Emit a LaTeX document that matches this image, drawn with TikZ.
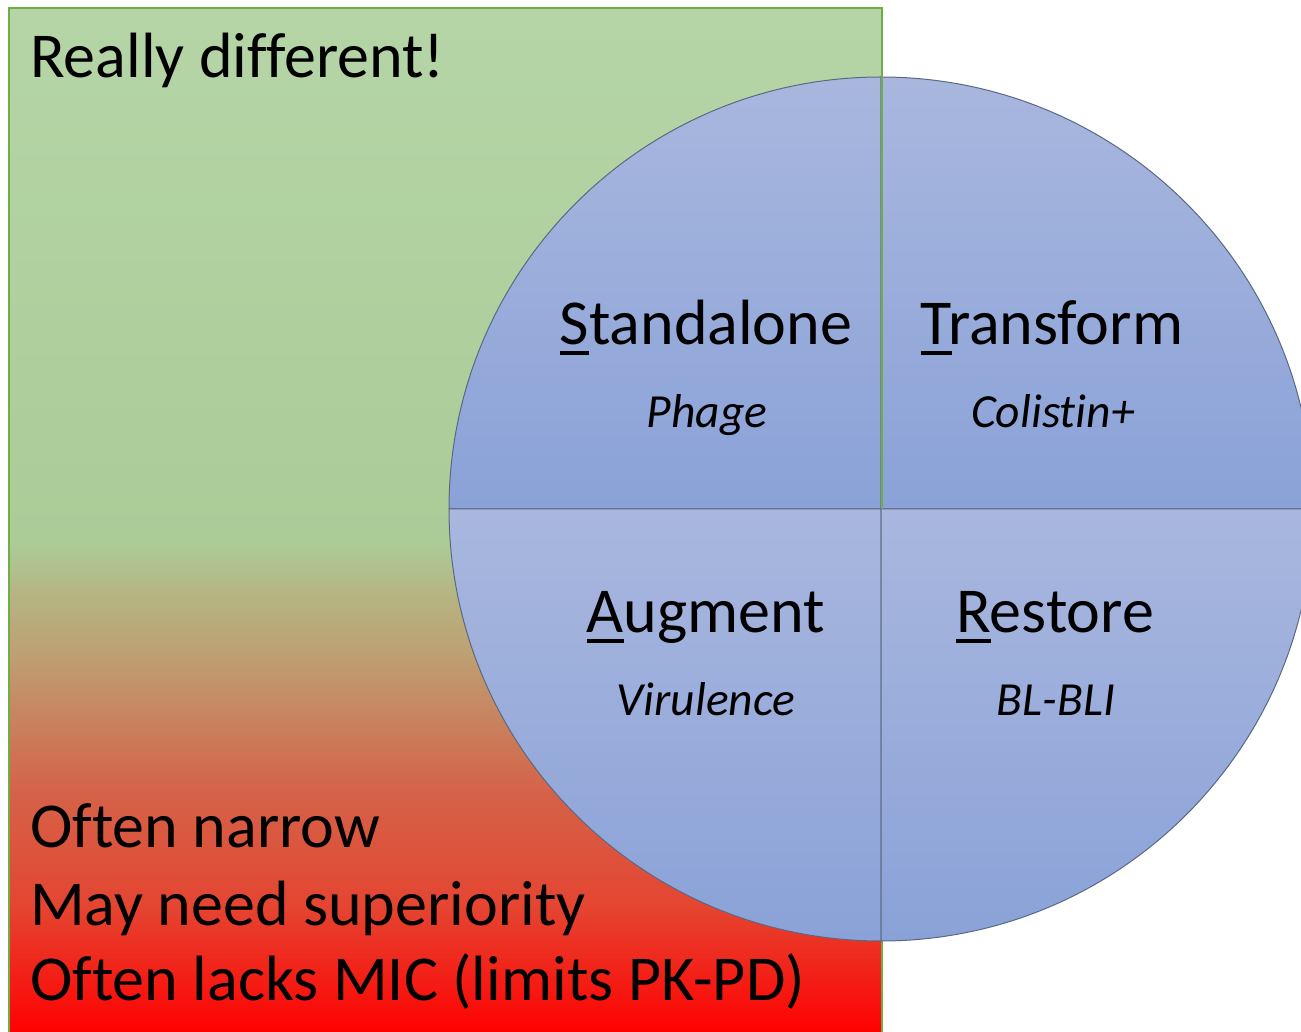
\documentclass[tikz,border=0pt]{standalone}
\usepackage{fontspec}
\setmainfont{Carlito}[Ligatures=NoCommon]
\usetikzlibrary{positioning}

\definecolor{boxgreen}{RGB}{112,173,71}
\definecolor{gtop}{RGB}{181,213,167}
\definecolor{gmid}{RGB}{171,204,151}
\definecolor{tanA}{RGB}{182,178,128}
\definecolor{tanB}{RGB}{190,160,115}
\definecolor{redA}{RGB}{212,98,72}
\definecolor{redB}{RGB}{228,70,50}
\definecolor{redC}{RGB}{255,0,0}
\definecolor{quadtop}{RGB}{169,183,222}
\definecolor{quadbot}{RGB}{138,162,216}
\definecolor{quadline}{RGB}{90,105,130}

% background of the box, bottom to top
\pgfdeclareverticalshading{greenred}{100bp}{color(0bp)=(redC); color(25bp)=(redC);
  color(31.4bp)=(redB); color(36.8bp)=(redA); color(43.6bp)=(tanB);
  color(46.1bp)=(tanA); color(49bp)=(gmid); color(75bp)=(gtop); color(100bp)=(gtop)}
% underlined first letter
\newcommand{\firstul}[1]{\setbox0\hbox{#1}\rlap{\rule[-0.15em]{\wd0}{0.055em}}#1}

\begin{document}
\begin{tikzpicture}[x=1pt,y=1pt,
    quad/.style={draw=quadline, line width=1pt, top color=quadtop, bottom color=quadbot},
    head/.style={inner sep=0pt, anchor=base, font=\fontsize{64}{76}\selectfont},
    sub/.style={inner sep=0pt, anchor=base, font=\fontsize{47.5}{56}\selectfont\itshape},
    side/.style={inner sep=0pt, anchor=base west, font=\fontsize{64}{76}\selectfont}]
  \useasboundingbox (0,0) rectangle (1301,1031);
  \clip (0,0) rectangle (1301,1031);
  % box
  \shade[shading=greenred] (9,-4) rectangle (882,1023);
  \draw[boxgreen, line width=1.3pt] (9,-4) rectangle (882,1023);
  % circle quadrants
  \coordinate (C) at (881,522);
  \path[quad] (C) -- (449,522) arc[start angle=180, end angle=90, radius=432pt] -- cycle;
  \path[quad] (C) -- (881,954) arc[start angle=90, end angle=0, radius=432pt] -- cycle;
  \path[quad] (C) -- (449,522) arc[start angle=180, end angle=270, radius=432pt] -- cycle;
  \path[quad] (C) -- (881,90) arc[start angle=270, end angle=360, radius=432pt] -- cycle;
  \draw[boxgreen, line width=1.3pt] (882,1023) -- (882,522);
  % labels
  \node[side] (RD) at (30,953) {Really different!};
  \node[side] (ON) at (30,183) {Often narrow};
  \node[side] (MN) at (30,106) {May need superiority};
  \node[side] (OL) at (30,31) {Often lacks MIC (limits PK-PD)};
  \node[head] (TL) at (706,686) {\firstul{S}tandalone};
  \node[sub]  (TLs) at (707,603) {Phage};
  \node[head] (TR) at (1052,686) {\firstul{T}ransform};
  \node[sub]  (TRs) at (1053,603) {Colistin+};
  \node[head] (BL) at (706,398) {\firstul{A}ugment};
  \node[sub]  (BLs) at (706,315) {Virulence};
  \node[head] (BR) at (1055,398) {\firstul{R}estore};
  \node[sub]  (BRs) at (1056,315) {BL-BLI};
\end{tikzpicture}
\end{document}
